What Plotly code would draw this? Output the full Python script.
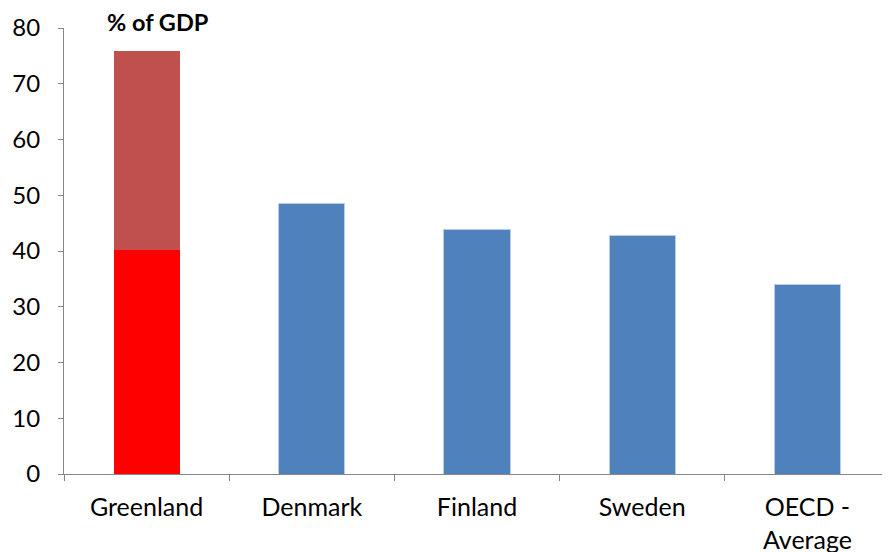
import plotly.graph_objects as go

categories = ["Greenland", "Denmark", "Finland", "Sweden", "OECD -<br>Average"]
greenland_lower = [40.1, None, None, None, None]
greenland_upper = [35.8, None, None, None, None]
others = [None, 48.6, 43.9, 42.8, 34.0]
y_ticks = [0, 10, 20, 30, 40, 50, 60, 70, 80]

font_family = "Lato, Open Sans, sans-serif"

fig = go.Figure()
fig.add_trace(go.Bar(x=categories, y=greenland_lower, marker_color="#FF0000",
                     marker_line_width=0))
fig.add_trace(go.Bar(x=categories, y=greenland_upper, marker_color="#C0504D",
                     marker_line_width=0))
fig.add_trace(go.Bar(x=categories, y=others, marker_color="#4F81BD",
                     marker_line=dict(color="#B9CDE5", width=1)))

# page body has an 8px default margin, so the figure is sized to fit the window
fig.update_layout(
    width=882, height=544,
    barmode="stack", bargap=0.6,
    showlegend=False,
    plot_bgcolor="white", paper_bgcolor="white",
    margin=dict(l=56, r=0, t=20, b=78, autoexpand=False),
    font=dict(family=font_family, size=24, color="#000000"),
    xaxis=dict(
        showline=True, linecolor="#868686", linewidth=1,
        ticks="outside", tickson="boundaries", ticklen=6, tickcolor="#868686",
        showgrid=False, tickfont=dict(size=25), ticklabelstandoff=11,
    ),
    yaxis=dict(
        range=[0, 80], tickvals=y_ticks,
        showline=True, linecolor="#868686", linewidth=1,
        ticks="outside", ticklen=5, tickcolor="#868686",
        showgrid=False, zeroline=False, tickfont=dict(size=24),
        ticklabelstandoff=13,
    ),
    annotations=[dict(
        text="<b>% of GDP</b>", xref="paper", yref="paper",
        x=(158 - 64) / 826, y=1.0, yshift=6, xanchor="center", yanchor="middle",
        showarrow=False, font=dict(size=23.5, family=font_family),
    )],
)

fig.write_html("out.html")
